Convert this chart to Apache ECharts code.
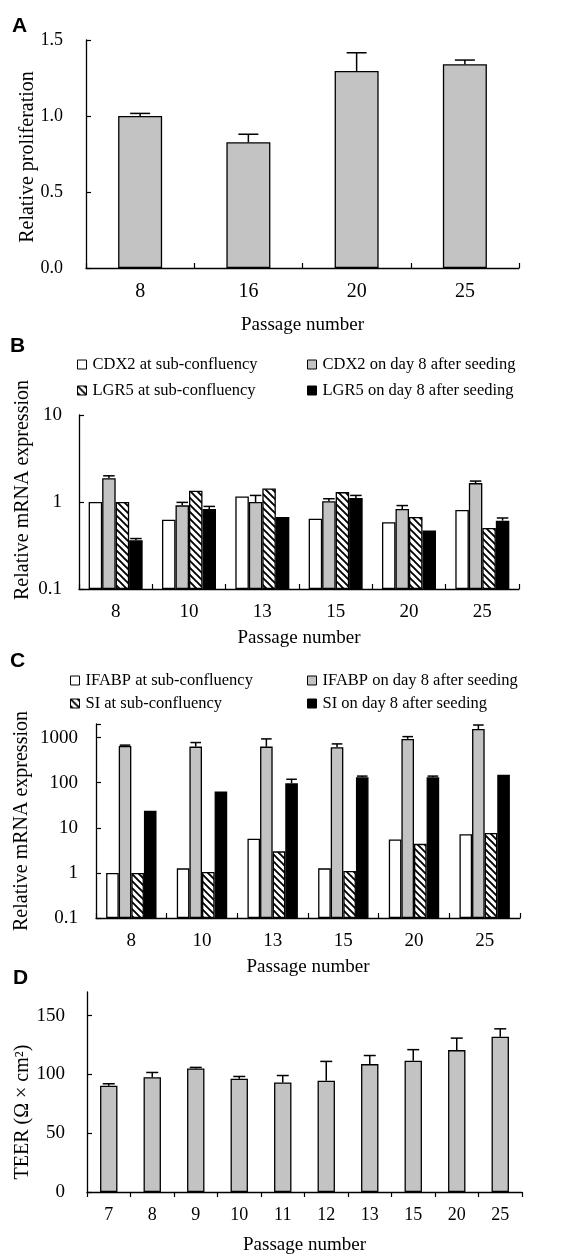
<!DOCTYPE html>
<html><head><meta charset="utf-8">
<script src="https://cdn.jsdelivr.net/npm/echarts@6/dist/echarts.min.js"></script>
<style>html,body{margin:0;padding:0;background:#fff}#c{width:565px;height:1258px}</style>
</head><body><div id="c"></div>
<script>
// ---- Data ----
const catsA = ['8', '16', '20', '25'];
const valA = [1.0, 0.827, 1.296, 1.34];
const errA = [1.017, 0.88, 1.416, 1.368];

const catsB = ['8', '10', '13', '15', '20', '25'];
const cdx2Sub = [1.0, 0.627, 1.16, 0.644, 0.585, 0.81];
const cdx2Day8 = [1.88, 0.915, 1.0, 1.02, 0.83, 1.65];
const cdx2Day8Err = [2.0, 0.99, 1.19, 1.09, 0.91, 1.74];
const lgr5Sub = [1.0, 1.35, 1.43, 1.30, 0.673, 0.503];
const lgr5Day8 = [0.363, 0.83, 0.673, 1.11, 0.469, 0.61];
const lgr5Day8Err = [0.38, 0.89, null, 1.19, null, 0.655];

const catsC = ['8', '10', '13', '15', '20', '25'];
const ifabpSub = [1.0, 1.26, 5.7, 1.26, 5.5, 7.2];
const ifabpDay8 = [654, 631, 631, 611, 935, 1550];
const ifabpDay8Err = [680, 776, 935, 724, 1050, 1900];
const siSub = [1.0, 1.05, 3.0, 1.1, 4.4, 7.7];
const siDay8 = [23.8, 63.5, 97, 132, 132, 149];
const siDay8Err = [null, null, 119, 140, 140, null];

const catsD = ['7', '8', '9', '10', '11', '12', '13', '15', '20', '25'];
const valD = [90.3, 97.6, 105, 96.2, 93.1, 94.5, 108.7, 111.5, 120.6, 131.9];
const errD = [92, 101.6, 105.9, 98.2, 99, 111, 116, 121, 130.8, 138.7];

const yTicksD = [0, 50, 100, 150];

// ---- Styles ----
const FONT = 'Liberation Serif';
const GRAY = '#c3c3c3';
function hatch() {
  const s = 7, c = document.createElement('canvas');
  c.width = s; c.height = s;
  const g = c.getContext('2d');
  g.fillStyle = '#fff'; g.fillRect(0, 0, s, s);
  g.strokeStyle = '#000'; g.lineWidth = 1.9;
  g.beginPath();
  g.moveTo(-2, -2); g.lineTo(s + 2, s + 2);
  g.moveTo(-2, s - 2); g.lineTo(2, s + 2);
  g.moveTo(s - 2, -2); g.lineTo(s + 2, 2);
  g.stroke();
  return c;
}
const HATCH = { image: hatch(), repeat: 'repeat' };

const axisLine = { show: true, lineStyle: { color: '#000', width: 1.3 } };
const lbl = (m, fs, extra) => Object.assign({ color: '#000', fontFamily: FONT, fontSize: fs, margin: m }, extra || {});
const nameStyle = pad => ({ color: '#000', fontFamily: FONT, fontSize: 20, padding: pad });
const xNameStyle = { color: '#000', fontFamily: FONT, fontSize: 19 };

function xAxis(gi, cats, nameGap, tickInside, fs) {
  return {
    type: 'category', gridIndex: gi, data: cats, boundaryGap: true,
    axisLine, axisTick: { show: true, inside: tickInside, length: 5, lineStyle: { color: '#000', width: 1.2 } },
    axisLabel: lbl(14, fs), splitLine: { show: false },
    name: 'Passage number', nameLocation: 'middle', nameGap, nameTextStyle: xNameStyle
  };
}
const isPow10 = v => Math.abs(Math.log10(v) - Math.round(Math.log10(v))) < 1e-6;

function barS(xi, data, color, bw, name) {
  return {
    type: 'bar', name, xAxisIndex: xi, yAxisIndex: xi, data, barWidth: bw, barGap: '0%',
    itemStyle: { color, borderColor: '#000', borderWidth: 1.3 }, silent: true, z: 3
  };
}
function errS(xi, vals, tops, offset, cap) {
  const d = [];
  tops.forEach((t, i) => { if (t != null) d.push([i, t, vals[i]]); });
  return {
    type: 'custom', xAxisIndex: xi, yAxisIndex: xi, data: d, z: 2, silent: true,
    encode: { x: 0, y: 1 },
    renderItem(params, api) {
      const i = api.value(0), top = api.value(1), base = api.value(2);
      const p0 = api.coord([i, base]), p1 = api.coord([i, top]);
      const x = p0[0] + offset;
      const st = { stroke: '#000', lineWidth: 1.5 };
      return { type: 'group', children: [
        { type: 'line', shape: { x1: x, y1: p0[1], x2: x, y2: p1[1] }, style: st },
        { type: 'line', shape: { x1: x - cap / 2, y1: p1[1], x2: x + cap / 2, y2: p1[1] }, style: st }
      ] };
    }
  };
}

const bwB = 13.5, bwC = 12.6;
const legendBase = (left, top, gap, names) => ({
  orient: 'vertical', left, top, itemGap: gap, itemWidth: 9, itemHeight: 9, icon: 'rect',
  selectedMode: false, data: names, padding: 0,
  itemStyle: { borderColor: '#000', borderWidth: 1 },
  textStyle: { color: '#000', fontFamily: FONT, fontSize: 16.5, lineHeight: 16, padding: [0, 0, 0, 1] }
});

const option = {
  animation: false,
  backgroundColor: '#fff',
  grid: [
    { left: 86, right: 46, top: 40, height: 228 },
    { left: 79, right: 46, top: 415, height: 174 },
    { left: 96, right: 45, top: 724, height: 194 },
    { left: 87, right: 43, top: 992, height: 200 }
  ],
  xAxis: [
    xAxis(0, catsA, 48, true, 20),
    xAxis(1, catsB, 40, true, 19),
    xAxis(2, catsC, 40, true, 19),
    xAxis(3, catsD, 44, false, 18)
  ],
  yAxis: [
    { type: 'value', gridIndex: 0, min: 0, max: 1.5, interval: 0.5, axisLine,
      axisTick: { show: true, inside: true, length: 5, lineStyle: { color: '#000', width: 1.2 } },
      axisLabel: lbl(23, 18, { formatter: v => v.toFixed(1) }), splitLine: { show: false },
      name: 'Relative proliferation', nameLocation: 'middle', nameGap: 48, nameMoveOverlap: false,
      nameTextStyle: nameStyle([0, 6, 0, 0]) },
    { type: 'log', logBase: 10, gridIndex: 1, min: 0.1, max: 10, startValue: 0.1, axisLine,
      axisTick: { show: true, inside: true, length: 5, lineStyle: { color: '#000', width: 1.2 } },
      axisLabel: lbl(17, 19, { formatter: v => isPow10(v) ? String(v) : '' }), splitLine: { show: false },
      name: 'Relative mRNA expression', nameLocation: 'middle', nameGap: 46, nameMoveOverlap: false,
      nameTextStyle: nameStyle([0, 0, 0, 24]) },
    { type: 'log', logBase: 10, gridIndex: 2, min: 0.1, max: 2000, startValue: 0.1, axisLine,
      axisTick: { show: true, inside: true, length: 5, lineStyle: { color: '#000', width: 1.2 } },
      axisLabel: lbl(18, 19, { formatter: v => isPow10(v) ? String(v) : '' }), splitLine: { show: false },
      name: 'Relative mRNA expression', nameLocation: 'middle', nameGap: 64, nameMoveOverlap: false,
      nameTextStyle: nameStyle([0, 0, 0, 0]) },
    { type: 'value', gridIndex: 3, min: 0, max: 170, axisLine,
      axisTick: { show: true, inside: true, length: 5, customValues: yTicksD, lineStyle: { color: '#000', width: 1.2 } },
      axisLabel: lbl(22, 19, { customValues: yTicksD }), splitLine: { show: false },
      name: 'TEER (Ω × cm²)', nameLocation: 'middle', nameGap: 54, nameMoveOverlap: false,
      nameTextStyle: nameStyle([0, 40, 0, 0]) }
  ],
  legend: [
    legendBase(77, 356, 9, ['CDX2 at sub-confluency', 'LGR5 at sub-confluency']),
    legendBase(307, 356, 9, ['CDX2 on day 8 after seeding', 'LGR5 on day 8 after seeding']),
    legendBase(70, 672, 6, ['IFABP at sub-confluency', 'SI at sub-confluency']),
    legendBase(307, 672, 6, ['IFABP on day 8 after seeding', 'SI on day 8 after seeding'])
  ],
  graphic: [
    { type: 'text', left: 12, top: 16, style: { text: 'A', font: 'bold 21px "Liberation Sans"', fill: '#000' } },
    { type: 'text', left: 10, top: 336, style: { text: 'B', font: 'bold 21px "Liberation Sans"', fill: '#000' } },
    { type: 'text', left: 10, top: 651, style: { text: 'C', font: 'bold 21px "Liberation Sans"', fill: '#000' } },
    { type: 'text', left: 13, top: 968, style: { text: 'D', font: 'bold 21px "Liberation Sans"', fill: '#000' } }
  ],
  series: [
    barS(0, valA, GRAY, 44, 'A'),
    errS(0, valA, errA, 0, 20),

    barS(1, cdx2Sub, '#fff', bwB, 'CDX2 at sub-confluency'),
    barS(1, cdx2Day8, GRAY, bwB, 'CDX2 on day 8 after seeding'),
    barS(1, lgr5Sub, HATCH, bwB, 'LGR5 at sub-confluency'),
    barS(1, lgr5Day8, '#000', bwB, 'LGR5 on day 8 after seeding'),
    errS(1, cdx2Day8, cdx2Day8Err, -0.5 * bwB, bwB - 2),
    errS(1, lgr5Day8, lgr5Day8Err, 1.5 * bwB, bwB - 2),

    barS(2, ifabpSub, '#fff', bwC, 'IFABP at sub-confluency'),
    barS(2, ifabpDay8, GRAY, bwC, 'IFABP on day 8 after seeding'),
    barS(2, siSub, HATCH, bwC, 'SI at sub-confluency'),
    barS(2, siDay8, '#000', bwC, 'SI on day 8 after seeding'),
    errS(2, ifabpDay8, ifabpDay8Err, -0.5 * bwC, bwC - 2),
    errS(2, siDay8, siDay8Err, 1.5 * bwC, bwC - 2),

    barS(3, valD, GRAY, '40%', 'D'),
    errS(3, valD, errD, 0, 12)
  ]
};
const chart = echarts.init(document.getElementById('c'), null, { renderer: 'canvas' });
chart.setOption(option);
</script>
</body></html>
